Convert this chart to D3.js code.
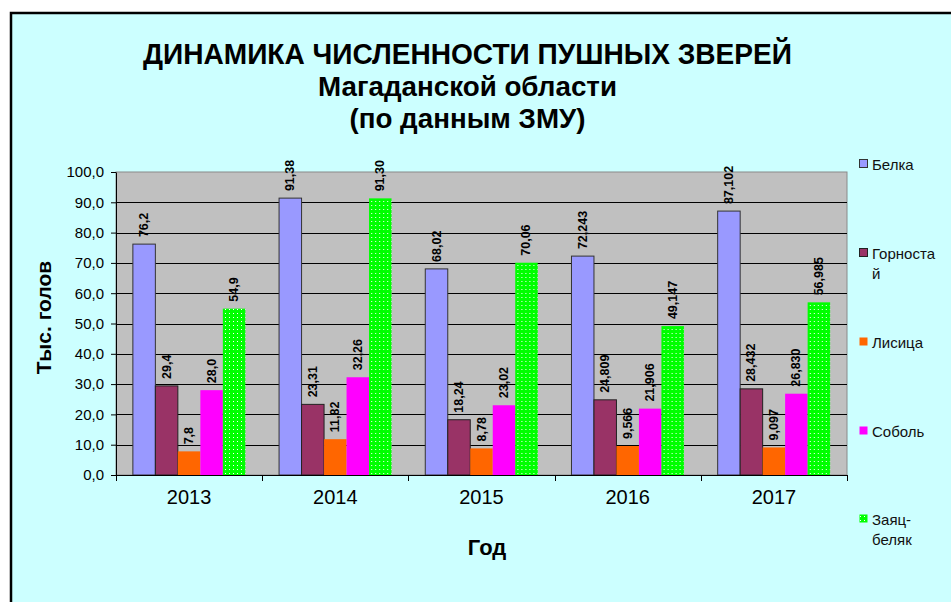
<!DOCTYPE html>
<html>
<head>
<meta charset="utf-8">
<script src="https://cdn.jsdelivr.net/npm/d3@7"></script>
<style>
  body { margin: 0; background: #fff; }
  svg { display: block; font-family: "Liberation Sans", Arial, sans-serif; }
</style>
</head>
<body>
<div id="chart"></div>
<script>
// data
var years = ["2013", "2014", "2015", "2016", "2017"];
var decimals = [1, 2, 2, 3, 3];   // how the labels are written for each year
var series = ["Белка", "Горностай", "Лисица", "Соболь", "Заяц-беляк"];
var legendLines = [["Белка"], ["Горноста", "й"], ["Лисица"], ["Соболь"], ["Заяц-", "беляк"]];
var belka     = [76.2, 91.38, 68.02, 72.243, 87.102];
var gornostai = [29.4, 23.31, 18.24, 24.809, 28.432];
var lisica    = [7.8, 11.82, 8.78, 9.566, 9.097];
var sobol     = [28.0, 32.26, 23.02, 21.906, 26.830];
var zayac     = [54.9, 91.30, 70.06, 49.147, 56.985];
var values = [belka, gornostai, lisica, sobol, zayac];
var yTicks = [0, 10, 20, 30, 40, 50, 60, 70, 80, 90, 100];
var titleLines = ["ДИНАМИКА ЧИСЛЕННОСТИ ПУШНЫХ ЗВЕРЕЙ", "Магаданской области", "(по данным ЗМУ)"];

var width = 951, height = 602;
var plot = {left: 116, top: 172, width: 731, height: 303};

var fills = ["#9999ff", "#993366", "#ff6600", "#ff00ff", "url(#dots)"];
var strokes = ["#333", "#222", "none", "none", "none"];

var comma = function(v, d) { return v.toFixed(d).replace(".", ","); };

var svg = d3.select("#chart").append("svg")
    .attr("width", width)
    .attr("height", height);

var defs = svg.append("defs");
var pat = defs.append("pattern")
    .attr("id", "dots")
    .attr("patternUnits", "userSpaceOnUse")
    .attr("width", 4)
    .attr("height", 4);
pat.append("rect").attr("width", 4).attr("height", 4).attr("fill", "#00ff00");
pat.append("rect").attr("x", 1).attr("y", 1).attr("width", 1).attr("height", 1).attr("fill", "#fff");

// chart area with frame (right and bottom edges run off the page)
svg.append("rect")
    .attr("x", 11).attr("y", 13)
    .attr("width", 960).attr("height", 620)
    .attr("fill", "#ccffff")
    .attr("stroke", "#000")
    .attr("stroke-width", 2.5);

// title
var titleSizes = [29, 28, 28],
    titleLengths = [649, 299, 236],
    titleBase = [64, 96, 128];
svg.selectAll("text.title")
    .data(titleLines)
  .enter().append("text")
    .attr("class", "title")
    .attr("x", 467.5)
    .attr("y", function(d, i) { return titleBase[i]; })
    .attr("text-anchor", "middle")
    .attr("font-weight", "bold")
    .attr("font-size", function(d, i) { return titleSizes[i]; })
    .attr("textLength", function(d, i) { return titleLengths[i]; })
    .attr("lengthAdjust", "spacingAndGlyphs")
    .text(function(d) { return d; });

var x0 = d3.scaleBand()
    .domain(years)
    .range([plot.left, plot.left + plot.width]);

var x1 = d3.scaleBand()
    .domain(series)
    .range([0, x0.bandwidth()])
    .paddingInner(0)
    .paddingOuter(0.75);

var y = d3.scaleLinear()
    .domain([0, 100])
    .range([plot.top + plot.height, plot.top]);

// plot area
svg.append("rect")
    .attr("x", plot.left).attr("y", plot.top)
    .attr("width", plot.width).attr("height", plot.height)
    .attr("fill", "#c0c0c0")
    .attr("stroke", "#8a8a8a");

svg.append("g").selectAll("line")
    .data(yTicks.slice(1, -1))
  .enter().append("line")
    .attr("x1", plot.left).attr("x2", plot.left + plot.width)
    .attr("y1", function(d) { return Math.round(y(d)) + 0.5; })
    .attr("y2", function(d) { return Math.round(y(d)) + 0.5; })
    .attr("stroke", "#000");

// bars
var group = svg.append("g").selectAll("g")
    .data(years)
  .enter().append("g")
    .attr("transform", function(d) { return "translate(" + x0(d) + ",0)"; });

group.each(function(yr, yi) {
  var g = d3.select(this);
  var cells = series.map(function(s, si) { return {s: s, si: si, v: values[si][yi]}; });

  g.selectAll("rect")
      .data(cells)
    .enter().append("rect")
      .attr("x", function(d) { return x1(d.s); })
      .attr("y", function(d) { return y(d.v); })
      .attr("width", x1.bandwidth())
      .attr("height", function(d) { return y(0) - y(d.v); })
      .attr("fill", function(d) { return fills[d.si]; })
      .attr("stroke", function(d) { return strokes[d.si]; });

  g.selectAll("text")
      .data(cells)
    .enter().append("text")
      .attr("transform", function(d) {
        return "translate(" + (x1(d.s) + x1.bandwidth() / 2) + "," + (y(d.v) - 7) + ") rotate(-90)";
      })
      .attr("dominant-baseline", "central")
      .attr("font-size", 12.5)
      .attr("font-weight", "bold")
      .text(function(d) { return comma(d.v, decimals[yi]); });
});

// y axis
var yAxis = d3.axisLeft(y)
    .tickValues(yTicks)
    .tickSize(5)
    .tickSizeOuter(0)
    .tickFormat(function(d) { return comma(d, 1); });

var gy = svg.append("g")
    .attr("transform", "translate(" + plot.left + ",0)")
    .call(yAxis);
gy.select(".domain").attr("stroke", "#000");
gy.selectAll("text")
    .attr("font-family", "Liberation Sans, Arial, sans-serif")
    .attr("font-size", 15)
    .attr("fill", "#000")
    .attr("x", -12);

// x axis: labels from the axis, ticks at category boundaries
var xAxis = d3.axisBottom(x0).tickSize(0).tickSizeOuter(0);
var gx = svg.append("g")
    .attr("transform", "translate(0," + (plot.top + plot.height) + ")")
    .call(xAxis);
gx.select(".domain").attr("stroke", "#000");
gx.selectAll("text")
    .attr("font-family", "Liberation Sans, Arial, sans-serif")
    .attr("font-size", 20)
    .attr("fill", "#000")
    .attr("dy", "1.28em");

gx.selectAll("line.edge")
    .data(years.concat(["end"]))
  .enter().append("line")
    .attr("class", "edge")
    .attr("x1", function(d, i) { return Math.round(plot.left + i * x0.step()) + 0.5; })
    .attr("x2", function(d, i) { return Math.round(plot.left + i * x0.step()) + 0.5; })
    .attr("y1", 0).attr("y2", 6)
    .attr("stroke", "#000");

// axis titles
svg.append("text")
    .attr("transform", "translate(51," + (plot.top + plot.height / 2 - 6) + ") rotate(-90)")
    .attr("text-anchor", "middle")
    .attr("font-weight", "bold")
    .attr("font-size", 21)
    .text("Тыс. голов");

svg.append("text")
    .attr("x", 487)
    .attr("y", 555)
    .attr("text-anchor", "middle")
    .attr("font-weight", "bold")
    .attr("font-size", 22)
    .text("Год");

// legend
var legendY = [164, 253, 342, 431, 519];
var legend = svg.append("g").selectAll("g")
    .data(series)
  .enter().append("g")
    .attr("transform", function(d, i) { return "translate(859," + legendY[i] + ")"; });

legend.append("rect")
    .attr("x", 0.5).attr("y", -4.5)
    .attr("width", 8).attr("height", 8)
    .attr("fill", function(d, i) { return fills[i]; })
    .attr("stroke", function(d, i) { return strokes[i]; });

legend.append("text")
    .attr("font-size", 15)
    .attr("fill", "#111")
    .selectAll("tspan")
    .data(function(d, i) { return legendLines[i]; })
  .enter().append("tspan")
    .attr("x", 13)
    .attr("y", function(d, i) { return 5.5 + i * 20; })
    .text(function(d) { return d; });
</script>
</body>
</html>
